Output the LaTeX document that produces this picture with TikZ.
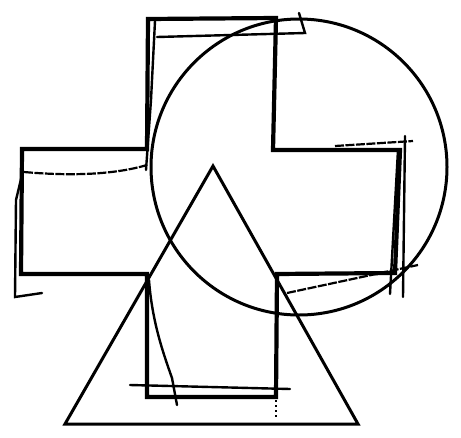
\documentclass[tikz,border=0pt]{standalone}
\begin{document}
\begin{tikzpicture}[x=1pt,y=-1pt,
  crossline/.style={line width=4.2pt,line join=miter},
  circline/.style={line width=3pt},
  triline/.style={line width=3pt,line join=miter},
  sketch/.style={line width=2.4pt,line cap=round},
  sketchdash/.style={line width=2.2pt,dash pattern=on 9pt off 1.5pt}]
\useasboundingbox (0,0) rectangle (461,437);
% circle
\coordinate (cc) at (299,167);
\draw[circline] (cc) circle[radius=148];
% cross
\draw[crossline] (148,19) -- (276,18) -- (273,150) -- (400,150) -- (395,273) -- (277,274)
  -- (276,397) -- (147,397) -- (147,274) -- (21,274) -- (22,149) -- (147,149) -- cycle;
% triangle
\coordinate (ta) at (213,166);
\coordinate (tl) at (65,424);
\coordinate (tr) at (358,424);
\draw[triline] (ta) -- (tl) -- (tr) -- cycle;
% sketch strokes: top arm
\draw[sketch] (157,37) -- (305,33) -- (299,13);
\draw[sketch] (155,21) -- (151,100) -- (146,170);
% left arm
\draw[sketchdash] (24,172) .. controls (80,177) and (120,173) .. (147,165);
\draw[sketch] (22,175) -- (16,200) -- (15,297) -- (42,293);
% right arm
\draw[sketchdash] (335,146) -- (413,141);
\draw[sketch] (405,136) -- (403,297);
\draw[sketch] (398,150) -- (390,294);
\draw[sketchdash] (287,293) -- (418,265);
% bottom arm
\draw[sketch] (130,385) -- (290,389);
\draw[sketch] (149,280) .. controls (152,320) and (162,350) .. (172,378) -- (177,405);
\draw[line width=2pt,dash pattern=on 2pt off 3pt] (276,400) -- (276,417);
\end{tikzpicture}
\end{document}
